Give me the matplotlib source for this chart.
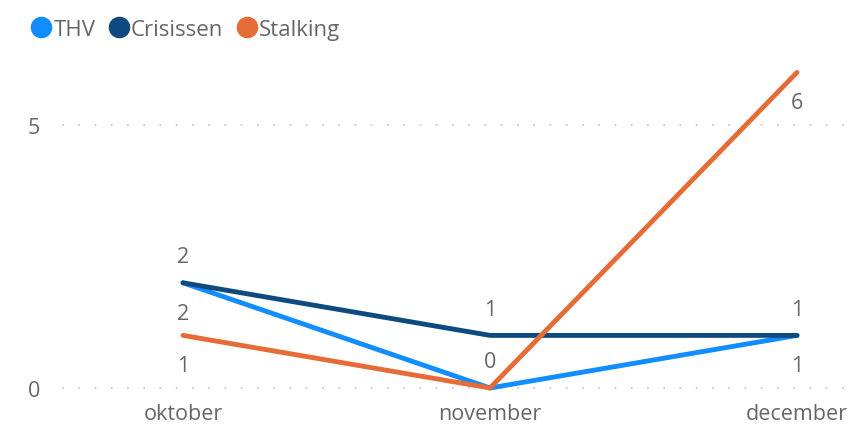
import matplotlib
matplotlib.use("Agg")
import matplotlib.pyplot as plt
from matplotlib.lines import Line2D

plt.rcParams['font.family'] = ['Open Sans', 'DejaVu Sans']

months = ["oktober", "november", "december"]
thv = [2, 0, 1]
crisissen = [2, 1, 1]
stalking = [1, 0, 6]
series_names = ["THV", "Crisissen", "Stalking"]

colors = {"THV": "#118DFF", "Crisissen": "#0E4A80", "Stalking": "#E66C37"}
# label side: 1 = above the point, -1 = below, 0 = hidden
label_side = {
    "THV": [-1, 0, -1],
    "Crisissen": [1, 1, 1],
    "Stalking": [-1, 1, -1],
}

fig = plt.figure(figsize=(8.56, 4.27), dpi=100)
ax = fig.add_axes([62 / 856, 27 / 427, (850 - 62) / 856, 340 / 427])

x = list(range(len(months)))
data = {"THV": thv, "Crisissen": crisissen, "Stalking": stalking}
for name in series_names:
    ax.plot(x, data[name], color=colors[name], lw=3.5, solid_capstyle="round",
            solid_joinstyle="round", clip_on=False, zorder=3)

for name in series_names:
    for i, v in enumerate(data[name]):
        side = label_side[name][i]
        if side == 0:
            continue
        dy = 19 if side > 0 else -22
        ax.annotate(str(v), (x[i], v), xytext=(0, dy), textcoords="offset points",
                    ha="center", va="center", fontsize=15.5, color="#666666")

ax.set_xlim(-121 / 307, 2 + 53 / 307)
ax.set_ylim(-11 / 52.6, 6 + 13.4 / 52.6)
ax.set_yticks([0, 5])
ax.set_xticks(x)
ax.set_xticklabels(months)
ax.yaxis.grid(True, linestyle=(0, (1, 8)), color="#C8C8C8", lw=1.3)
ax.set_axisbelow(True)
for s in ax.spines.values():
    s.set_visible(False)
ax.tick_params(length=0, labelsize=15.5, colors="#666666")
ax.tick_params(axis="y", pad=16)
ax.tick_params(axis="x", pad=3)

handles = [Line2D([], [], marker="o", ls="", markersize=14.5, color=colors[n]) for n in series_names]
fig.legend(handles, series_names, loc="upper left", bbox_to_anchor=(10 / 856, 1.0),
           ncol=3, frameon=False, fontsize=16, handletextpad=0.05,
           columnspacing=0.55, labelcolor="#666666", handlelength=1.0)

fig.savefig("out.png", dpi=100)
